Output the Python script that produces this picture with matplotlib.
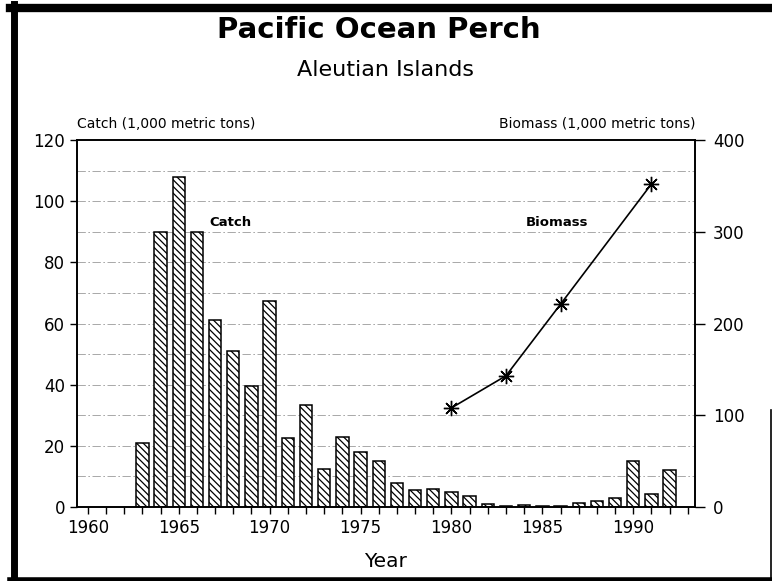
import numpy as np
import matplotlib.pyplot as plt
from matplotlib.lines import Line2D

# catch by year (1,000 metric tons)
years = [1963, 1964, 1965, 1966, 1967, 1968, 1969, 1970, 1971, 1972,
         1973, 1974, 1975, 1976, 1977, 1978, 1979, 1980, 1981, 1982,
         1983, 1984, 1985, 1986, 1987, 1988, 1989, 1990, 1991, 1992]
catch = [21, 90, 108, 90, 61, 51, 39.5, 67.5, 22.5, 33.5,
         12.5, 23, 18, 15, 8, 5.5, 6, 5, 3.5, 1,
         0.2, 0.5, 0.3, 0.4, 1.2, 2, 3, 15, 4.2, 12.2]

# biomass estimates (1,000 metric tons)
bio_years = [1980, 1983, 1986, 1991]
biomass = [108, 143, 221, 352]

catch_ticks = [0, 20, 40, 60, 80, 100, 120]
bio_ticks = [0, 100, 200, 300, 400]
year_ticks = [1960, 1965, 1970, 1975, 1980, 1985, 1990]

plt.rcParams['font.family'] = 'DejaVu Sans'
plt.rcParams['hatch.linewidth'] = 0.9

fig = plt.figure(figsize=(7.72, 5.81), dpi=100)
ax = fig.add_axes([0.0997, 0.1274, 0.8006, 0.6316])

# faint grid lines every 10 units
for g in range(10, 120, 10):
    ax.axhline(g, color='#9a9a9a', lw=0.6, ls=(0, (10, 3, 2, 3)), zorder=0)

ax.bar(years, catch, width=0.68, color='white', edgecolor='black',
       hatch='\\' * 5, linewidth=1.1, zorder=2)

ax.set_xlim(1959.4, 1993.4)
ax.set_ylim(0, 120)
ax.set_yticks(catch_ticks)
ax.set_xticks(year_ticks)
ax.set_xticks(range(1960, 1994), minor=True)
ax.tick_params(axis='both', which='major', direction='out', length=5,
               width=1, labelsize=12)
ax.tick_params(axis='x', which='minor', direction='out', length=5, width=1)
for s in ax.spines.values():
    s.set_linewidth(1.2)
ax.set_xlabel('Year', fontsize=14.5, labelpad=11)

ax2 = ax.twinx()
ax2.plot(bio_years, biomass, color='black', lw=1.2, marker=(8, 2, 0),
         markersize=11, markeredgewidth=1.0, zorder=3)
ax2.set_ylim(0, 400)
ax2.set_yticks(bio_ticks)
ax2.tick_params(axis='y', direction='out', length=7, width=1, labelsize=12, pad=6)
for s in ax2.spines.values():
    s.set_linewidth(1.2)

ax.text(1966.7, 93, 'Catch', fontsize=9.5, fontweight='bold', va='center')
ax.text(1984.1, 93, 'Biomass', fontsize=9.5, fontweight='bold', va='center')

ax.text(0, 1.025, 'Catch (1,000 metric tons)', transform=ax.transAxes,
        fontsize=10, ha='left', va='bottom')
ax.text(1, 1.025, 'Biomass (1,000 metric tons)', transform=ax.transAxes,
        fontsize=10, ha='right', va='bottom')

fig.text(0.491, 0.948, 'Pacific Ocean Perch', fontsize=21, fontweight='bold',
         ha='center', va='center')
fig.text(0.499, 0.879, 'Aleutian Islands', fontsize=16, ha='center', va='center')

# scanned page frame
W, H = 772, 581
fig.add_artist(Line2D([13.5 / W, 13.5 / W], [0, 1 - 4 / H], color='black', lw=5))
fig.add_artist(Line2D([10 / W, 1], [1 - 8 / H, 1 - 8 / H], color='black', lw=6))
fig.add_artist(Line2D([10 / W, 1], [1.5 / H, 1.5 / H], color='black', lw=4))
fig.add_artist(Line2D([770.5 / W, 770.5 / W], [0, 1 - 410 / H], color='black', lw=1.2))

fig.savefig('out.png', dpi=100)
